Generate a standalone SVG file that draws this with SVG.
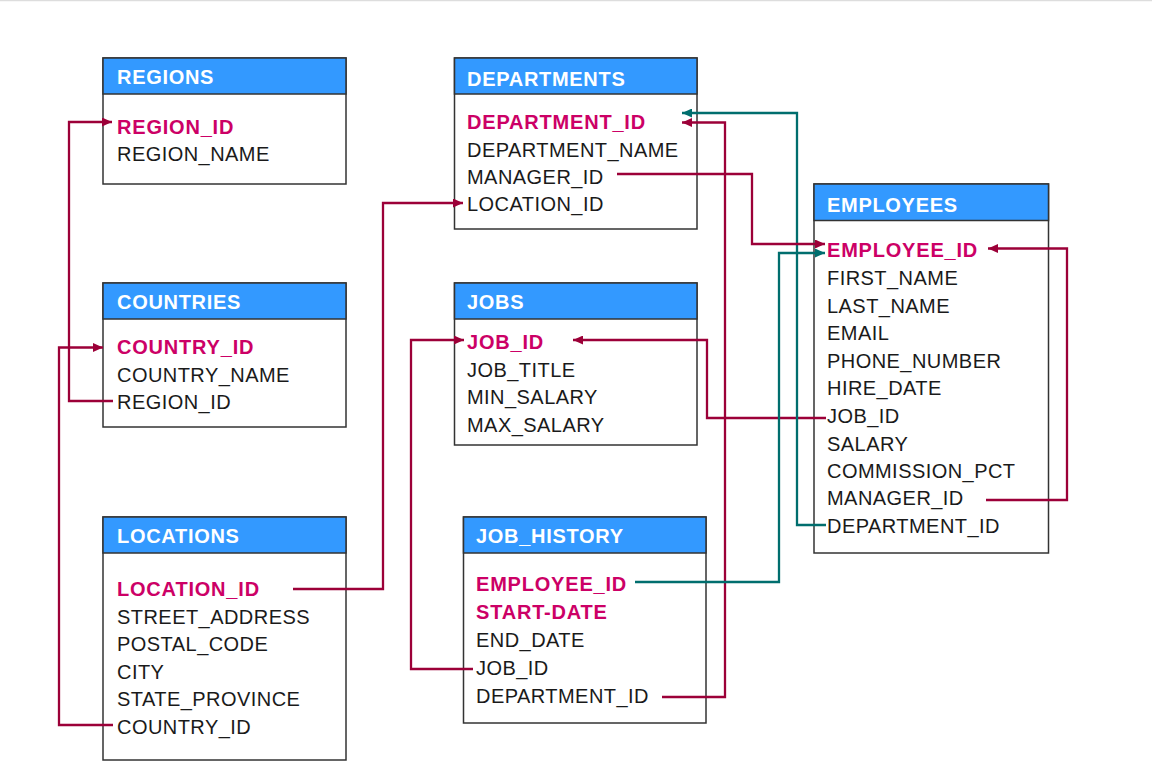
<svg xmlns="http://www.w3.org/2000/svg" width="1152" height="766" viewBox="0 0 1152 766">
  <style>
    .box { fill: #ffffff; stroke: #333333; stroke-width: 1.5; }
    .head { fill: #3399ff; stroke: #333333; stroke-width: 1.5; }
    .title { font-family: "Liberation Sans", Arial, sans-serif; font-size: 20px; font-weight: bold; fill: #ffffff; letter-spacing: 0.7px; }
    .col { font-family: "Liberation Sans", Arial, sans-serif; font-size: 20px; fill: #1a1a1a; letter-spacing: 0.45px; }
    .key { font-family: "Liberation Sans", Arial, sans-serif; font-size: 20px; font-weight: bold; fill: #cc0066; letter-spacing: 0.8px; }
    .fk { fill: none; stroke: #9c0038; stroke-width: 2.3; }
    .fk2 { fill: none; stroke: #006e6e; stroke-width: 2.3; }
  </style>
  <defs>
    <marker id="arrRed" markerUnits="userSpaceOnUse" markerWidth="11" markerHeight="9" refX="10" refY="4.5" orient="auto">
      <path d="M0,0 L10,4.5 L0,9 z" fill="#9c0038"/>
    </marker>
    <marker id="arrTeal" markerUnits="userSpaceOnUse" markerWidth="11" markerHeight="9" refX="10" refY="4.5" orient="auto">
      <path d="M0,0 L10,4.5 L0,9 z" fill="#006e6e"/>
    </marker>
  </defs>

  <rect width="1152" height="766" fill="#ffffff"/>
  <line x1="0" y1="0.5" x2="1152" y2="0.5" stroke="#dddddd" stroke-width="1.5"/>

  <!-- REGIONS -->
  <g id="regions">
    <rect class="box" x="103" y="58" width="243" height="126"/>
    <rect class="head" x="103" y="58" width="243" height="36"/>
    <text class="title" x="117" y="84">REGIONS</text>
    <text class="key" x="117" y="133.5">REGION_ID</text>
    <text class="col" x="117" y="161">REGION_NAME</text>
  </g>

  <!-- COUNTRIES -->
  <g id="countries">
    <rect class="box" x="103" y="283" width="243" height="144"/>
    <rect class="head" x="103" y="283" width="243" height="36"/>
    <text class="title" x="117" y="309">COUNTRIES</text>
    <text class="key" x="117" y="354">COUNTRY_ID</text>
    <text class="col" x="117" y="381.5">COUNTRY_NAME</text>
    <text class="col" x="117" y="409">REGION_ID</text>
  </g>

  <!-- LOCATIONS -->
  <g id="locations">
    <rect class="box" x="103" y="517" width="243" height="243"/>
    <rect class="head" x="103" y="517" width="243" height="36"/>
    <text class="title" x="117" y="543">LOCATIONS</text>
    <text class="key" x="117" y="596">LOCATION_ID</text>
    <text class="col" x="117" y="623.5">STREET_ADDRESS</text>
    <text class="col" x="117" y="651">POSTAL_CODE</text>
    <text class="col" x="117" y="678.5">CITY</text>
    <text class="col" x="117" y="706">STATE_PROVINCE</text>
    <text class="col" x="117" y="733.5">COUNTRY_ID</text>
  </g>

  <!-- DEPARTMENTS -->
  <g id="departments">
    <rect class="box" x="454.5" y="58" width="242.5" height="171"/>
    <rect class="head" x="454.5" y="58" width="242.5" height="36"/>
    <text class="title" x="467" y="85.5">DEPARTMENTS</text>
    <text class="key" x="467" y="129">DEPARTMENT_ID</text>
    <text class="col" x="467" y="156.5">DEPARTMENT_NAME</text>
    <text class="col" x="467" y="183.5">MANAGER_ID</text>
    <text class="col" x="467" y="211">LOCATION_ID</text>
  </g>

  <!-- JOBS -->
  <g id="jobs">
    <rect class="box" x="454.5" y="283" width="242.5" height="162"/>
    <rect class="head" x="454.5" y="283" width="242.5" height="36"/>
    <text class="title" x="467" y="309">JOBS</text>
    <text class="key" x="467" y="349">JOB_ID</text>
    <text class="col" x="467" y="376.5">JOB_TITLE</text>
    <text class="col" x="467" y="404">MIN_SALARY</text>
    <text class="col" x="467" y="431.5">MAX_SALARY</text>
  </g>

  <!-- JOB_HISTORY -->
  <g id="job_history">
    <rect class="box" x="463.5" y="517" width="242.5" height="206"/>
    <rect class="head" x="463.5" y="517" width="242.5" height="36"/>
    <text class="title" x="476" y="543">JOB_HISTORY</text>
    <text class="key" x="476" y="591">EMPLOYEE_ID</text>
    <text class="key" x="476" y="619">START-DATE</text>
    <text class="col" x="476" y="647">END_DATE</text>
    <text class="col" x="476" y="675">JOB_ID</text>
    <text class="col" x="476" y="702.5">DEPARTMENT_ID</text>
  </g>

  <!-- EMPLOYEES -->
  <g id="employees">
    <rect class="box" x="814" y="184" width="234.5" height="369"/>
    <rect class="head" x="814" y="184" width="234.5" height="36.5"/>
    <text class="title" x="827" y="211.5">EMPLOYEES</text>
    <text class="key" x="827" y="257">EMPLOYEE_ID</text>
    <text class="col" x="827" y="285">FIRST_NAME</text>
    <text class="col" x="827" y="313">LAST_NAME</text>
    <text class="col" x="827" y="340">EMAIL</text>
    <text class="col" x="827" y="368">PHONE_NUMBER</text>
    <text class="col" x="827" y="395">HIRE_DATE</text>
    <text class="col" x="827" y="423">JOB_ID</text>
    <text class="col" x="827" y="450.5">SALARY</text>
    <text class="col" x="827" y="477.5">COMMISSION_PCT</text>
    <text class="col" x="827" y="505">MANAGER_ID</text>
    <text class="col" x="827" y="532.5">DEPARTMENT_ID</text>
  </g>

  <!-- foreign key connectors -->
  <g id="connectors">
    <path class="fk" d="M113,401 H69 V122 H112" marker-end="url(#arrRed)"/>
    <path class="fk" d="M113,725 H59 V347.5 H103" marker-end="url(#arrRed)"/>
    <path class="fk" d="M293,589 H383 V203 H463" marker-end="url(#arrRed)"/>
    <path class="fk" d="M473,669 H411 V340 H464" marker-end="url(#arrRed)"/>
    <path class="fk" d="M826,418 H707 V340 H573" marker-end="url(#arrRed)"/>
    <path class="fk" d="M662,697 H725 V122.5 H682" marker-end="url(#arrRed)"/>
    <path class="fk2" d="M826,525 H797 V113 H682" marker-end="url(#arrTeal)"/>
    <path class="fk" d="M617,174 H752 V244 H825" marker-end="url(#arrRed)"/>
    <path class="fk2" d="M635,582 H779 V253 H825" marker-end="url(#arrTeal)"/>
    <path class="fk" d="M986,500 H1067 V248.5 H988" marker-end="url(#arrRed)"/>
  </g>
</svg>
